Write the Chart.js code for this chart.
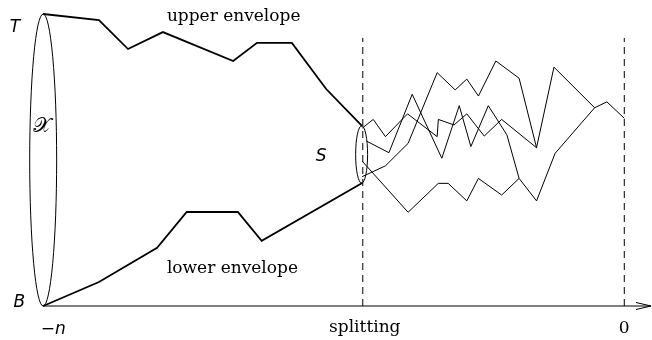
<!DOCTYPE html>
<html>
<head>
<meta charset="utf-8">
<style>
  html, body { margin: 0; padding: 0; background: #ffffff; }
  #wrap { width: 652px; height: 340px; }
</style>
<script src="https://cdn.jsdelivr.net/npm/chart.js@4.4.1/dist/chart.umd.min.js"></script>
</head>
<body>
<div id="wrap"><canvas id="c" width="652" height="340"></canvas></div>
<script>
// time axis: -n = -100 ... 0 ; splitting time
const N = 100;
const splitT = -45;
const axisEndT = 4.6;

// envelopes before the splitting time
const upperT = [-100, -90.4, -85.4, -79.4, -67.3, -63.2, -57.2, -51.3, -45.1];
const upperV = [100, 97.9, 88.0, 93.8, 83.9, 90.1, 90.1, 74.3, 61.6];
const lowerT = [-100, -90.4, -80.4, -75.3, -66.5, -62.4, -45.1];
const lowerV = [0, 8.2, 19.9, 32.2, 32.2, 22.3, 42.1];

// paths after the splitting time (they coalesce)
const pathTopT = [-45.1, -41.1, -37.2, -32.2, -29.1, -27.1, -25.1, -22.1, -18.1, -15.1, -12.1, -5.1, -3.0, 0];
const pathTopV = [44.3, 48.0, 55.7, 79.9, 74.0, 77.7, 71.9, 83.9, 78.0, 54.2, 81.8, 67.9, 69.9, 64.3];
const pathAT = [-45.1, -43.2, -41.1, -37.3, -32.2, -32.0, -29.3, -27.1, -24.1, -21.1, -15.1];
const pathAV = [60.9, 63.9, 58.0, 65.8, 58.0, 63.9, 62.0, 65.8, 58.2, 63.9, 54.2];
const pathBT = [-44.3, -40.5, -36.5, -31.4, -28.4, -26.4, -23.4, -20.2, -18.1];
const pathBV = [56.4, 52.5, 72.5, 50.6, 68.6, 54.6, 68.6, 58.6, 43.7];
const pathBotT = [-45.1, -37.2, -32.0, -30.3, -27.1, -25.1, -21.1, -18.1, -15.1, -11.9, -5.1];
const pathBotV = [49.6, 32.1, 42.0, 42.0, 36.0, 43.7, 38.0, 43.7, 36.0, 52.3, 67.9];

// dashed time markers
const markerT = [splitT, 0];
const markerTop = 91.8;

function pts(ts, vs) { return ts.map((t, i) => ({ x: t, y: vs[i] })); }

const thick = { borderColor: '#000', borderWidth: 1.8, pointRadius: 0, fill: false, tension: 0, borderJoinStyle: 'miter', clip: false };
const thin = { borderColor: '#000', borderWidth: 1, pointRadius: 0, fill: false, tension: 0, borderJoinStyle: 'miter', clip: false };

const datasets = [
  Object.assign({ label: 'upper envelope', data: pts(upperT, upperV) }, thick),
  Object.assign({ label: 'lower envelope', data: pts(lowerT, lowerV) }, thick),
  Object.assign({ label: 'path 1', data: pts(pathTopT, pathTopV) }, thin),
  Object.assign({ label: 'path 2', data: pts(pathAT, pathAV) }, thin),
  Object.assign({ label: 'path 3', data: pts(pathBT, pathBV) }, thin),
  Object.assign({ label: 'path 4', data: pts(pathBotT, pathBotV) }, thin),
  Object.assign({ label: 'time axis', data: pts([-N, axisEndT], [0, 0]) }, thin)
];
markerT.forEach((t, i) => {
  datasets.push(Object.assign({ label: 'marker ' + i, data: pts([t, t], [0, markerTop]), borderDash: [7, 5] }, thin));
});

// ellipses: state space at -n and the splitting set S
const ellipses = [
  { t: -N, v: 50, rt: 2.32, rv: 50 },
  { t: splitT - 0.2, v: 51.9, rt: 1.03, rv: 9.8 }
];

const sans = 'italic 17px "DejaVu Sans", sans-serif';
const serif = '17px "DejaVu Serif", serif';
// text anchored at a data point with a pixel offset
const labels = [
  { text: 'T', t: -N, v: 100, dx: -23, dy: 18, align: 'right', font: sans },
  { text: 'B', t: -N, v: 0, dx: -18, dy: 1, align: 'right', font: sans },
  { text: '\u2212n', t: -N, v: 0, dx: 10, dy: 28, align: 'center', font: sans },
  { text: 'splitting', t: splitT, v: 0, dx: 2, dy: 26, align: 'center', font: serif },
  { text: '0', t: 0, v: 0, dx: 0, dy: 27, align: 'center', font: serif },
  { text: 'upper envelope', t: -79.4, v: 93.8, dx: 4, dy: -11, align: 'left', font: serif },
  { text: 'lower envelope', t: -79.4, v: 0, dx: 4, dy: -33, align: 'left', font: serif },
  { text: 'S', t: splitT, v: 51.9, dx: -47, dy: 7, align: 'left', font: sans },
  { text: '\uD835\uDCB3', t: -N, v: 50, dx: -1, dy: -28, align: 'center', font: '21px "DejaVu Serif", "DejaVu Sans", serif' }
];

const decor = {
  id: 'decor',
  afterDatasetsDraw(chart) {
    const ctx = chart.ctx, xs = chart.scales.x, ys = chart.scales.y;
    ctx.save();
    ctx.strokeStyle = '#000';
    ctx.lineWidth = 1;
    ellipses.forEach(e => {
      const cx = xs.getPixelForValue(e.t), cy = ys.getPixelForValue(e.v);
      const rx = Math.abs(xs.getPixelForValue(e.t + e.rt) - cx);
      const ry = Math.abs(ys.getPixelForValue(e.v + e.rv) - cy);
      ctx.beginPath();
      ctx.ellipse(cx, cy, rx, ry, 0, 0, Math.PI * 2);
      ctx.stroke();
    });
    // arrow head at the end of the time axis
    const ax = xs.getPixelForValue(axisEndT), ay = ys.getPixelForValue(0);
    ctx.beginPath();
    ctx.moveTo(ax - 15, ay - 3.5);
    ctx.lineTo(ax, ay);
    ctx.lineTo(ax - 15, ay + 3.5);
    ctx.stroke();
    ctx.fillStyle = '#000';
    ctx.textBaseline = 'alphabetic';
    labels.forEach(l => {
      ctx.font = l.font;
      ctx.textAlign = l.align;
      ctx.fillText(l.text, xs.getPixelForValue(l.t) + l.dx, ys.getPixelForValue(l.v) + l.dy);
    });
    ctx.restore();
  }
};

new Chart(document.getElementById('c'), {
  type: 'line',
  data: { datasets },
  options: {
    responsive: false,
    animation: false,
    devicePixelRatio: 1,
    layout: { padding: 0 },
    plugins: { legend: { display: false }, tooltip: { enabled: false } },
    scales: {
      x: { type: 'linear', min: -107.43, max: 4.77, display: false },
      y: { type: 'linear', min: -11.64, max: 104.79, display: false }
    }
  },
  plugins: [decor]
});
</script>
</body>
</html>
